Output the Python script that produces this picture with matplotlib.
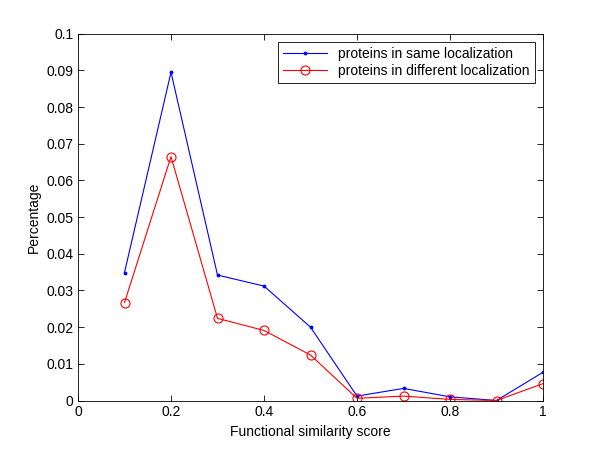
import numpy as np
from matplotlib import pyplot as plt

plt.rcParams['font.family'] = ['Liberation Sans', 'DejaVu Sans']

scores = [0.1, 0.2, 0.3, 0.4, 0.5, 0.6, 0.7, 0.8, 0.9, 1.0]
same_loc = [0.0349, 0.0895, 0.0342, 0.0312, 0.0200, 0.0012, 0.0033, 0.0010, 0.0, 0.0077]
diff_loc = [0.0267, 0.0665, 0.0224, 0.0191, 0.0124, 0.0006, 0.0012, 0.0003, 0.0, 0.0046]
xticks = np.arange(0, 1.01, 0.2)
yticks = np.arange(0, 0.101, 0.01)

fig = plt.figure(figsize=(6, 4.5), dpi=100)
ax = fig.add_axes([0.13, 0.11, 0.775, 0.815])

ax.plot(scores, same_loc, 'b.-', lw=0.8, ms=3.5, label='proteins in same localization')
ax.plot(scores, diff_loc, 'r-o', lw=0.8, ms=6.5, mfc='none', mew=0.8,
        label='proteins in different localization')

ax.set_xlim(0, 1)
ax.set_ylim(0, 0.1)
ax.set_xticks(xticks)
ax.set_xticklabels(['0', '0.2', '0.4', '0.6', '0.8', '1'])
ax.set_yticks(yticks)
ax.set_yticklabels(['0'] + ['{:g}'.format(round(v, 2)) for v in yticks[1:]])
ax.tick_params(direction='in', top=True, right=True, labelsize=10, length=4, width=0.6)
for s in ax.spines.values():
    s.set_linewidth(0.6)

ax.set_xlabel('Functional similarity score', fontsize=10)
ax.set_ylabel('Percentage', fontsize=10)

leg = ax.legend(loc='upper right', fontsize=10, fancybox=False, framealpha=1,
                edgecolor='black', borderaxespad=0.6, handlelength=3.2,
                labelspacing=0.2, borderpad=0.35)
leg.get_frame().set_linewidth(0.6)

fig.savefig('out.png')
